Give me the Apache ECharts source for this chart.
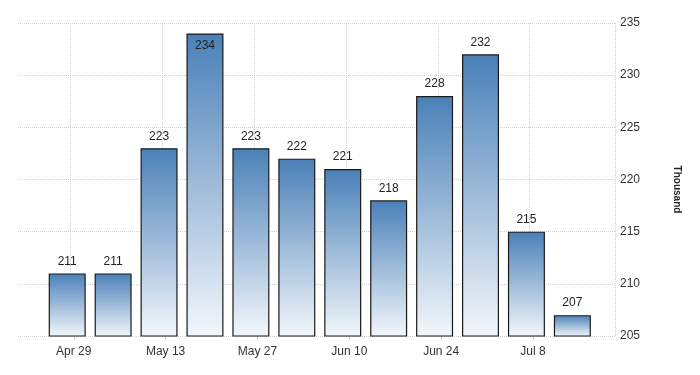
<!DOCTYPE html>
<html>
<head>
<meta charset="utf-8">
<script src="https://cdn.jsdelivr.net/npm/echarts@6/dist/echarts.min.js"></script>
<style>html,body{margin:0;padding:0;background:#fff}#c{width:700px;height:375px}</style>
</head>
<body>
<div id="c"></div>
<script>
// Weekly data (week-ending Saturdays, 2018)
const weekDates = ['2018-04-28','2018-05-05','2018-05-12','2018-05-19','2018-05-26','2018-06-02','2018-06-09','2018-06-16','2018-06-23','2018-06-30','2018-07-07','2018-07-14'];
const values = [211, 211, 223, 234, 223, 222, 221, 218, 228, 232, 215, 207];
const tickDates = ['2018-04-29','2018-05-13','2018-05-27','2018-06-10','2018-06-24','2018-07-08'];
const tickLabels = ['Apr 29','May 13','May 27','Jun 10','Jun 24','Jul 8'];
const yTicks = [205, 210, 215, 220, 225, 230, 235];
const axisStart = '2018-04-21';
const axisEnd = '2018-07-20';

// build daily category list
const DAY = 86400000;
const days = [];
for (let t = Date.parse(axisStart); t <= Date.parse(axisEnd); t += DAY) {
  days.push(new Date(t).toISOString().slice(0, 10));
}
const valueByDate = {};
weekDates.forEach((d, i) => valueByDate[d] = values[i]);
const tickSet = {};
tickDates.forEach((d, i) => tickSet[d] = tickLabels[i]);
const maxVal = Math.max(...values);
const seriesData = days.map(d => {
  if (!(d in valueByDate)) return '-';
  const v = valueByDate[d];
  if (v === maxVal) return { value: v, label: { position: 'insideTop', distance: 6 } };
  return v;
});

const font = "'Liberation Sans Narrow','Arial Narrow','Liberation Sans',Arial,sans-serif";
const tickFn = (idx, val) => val in tickSet;

const chart = echarts.init(document.getElementById('c'));
chart.setOption({
  animation: false,
  backgroundColor: '#fff',
  grid: { left: 18, right: 85, top: 23, bottom: 39, containLabel: false },
  xAxis: {
    type: 'category',
    data: days,
    boundaryGap: true,
    axisLine: { show: false },
    axisTick: { show: true, interval: tickFn, alignWithLabel: true, length: 4, lineStyle: { color: '#ccc' } },
    axisLabel: {
      interval: tickFn,
      formatter: v => tickSet[v] || '',
      color: '#333', fontFamily: font, fontSize: 12, margin: 10
    },
    splitLine: { show: true, interval: tickFn, lineStyle: { color: '#d0d0d0', type: 'dotted', width: 1 } }
  },
  yAxis: {
    type: 'value',
    position: 'right',
    min: yTicks[0], max: yTicks[yTicks.length - 1], interval: 5,
    name: 'Thousand',
    nameLocation: 'middle',
    nameRotate: -90,
    nameGap: 57,
    nameTextStyle: { color: '#222', fontFamily: "'Liberation Sans',Arial,sans-serif", fontSize: 10, fontWeight: 'bold', padding: [0, 0, 0, 20] },
    axisLine: { show: false },
    axisTick: { show: false },
    axisLabel: { color: '#333', fontFamily: font, fontSize: 12, margin: 5 },
    splitLine: { show: true, lineStyle: { color: '#d0d0d0', type: 'dotted', width: 1 } }
  },
  series: [{
    type: 'bar',
    data: seriesData,
    barWidth: 37,
    itemStyle: {
      borderColor: '#1a1a1a', borderWidth: 1.2,
      color: { type: 'linear', x: 0, y: 0, x2: 0, y2: 1, colorStops: [
        { offset: 0, color: '#4a80b8' }, { offset: 1, color: '#f3f7fb' }
      ] }
    },
    label: { show: true, position: 'top', distance: 6, color: '#222', fontFamily: font, fontSize: 12 }
  }]
});
</script>
</body>
</html>
